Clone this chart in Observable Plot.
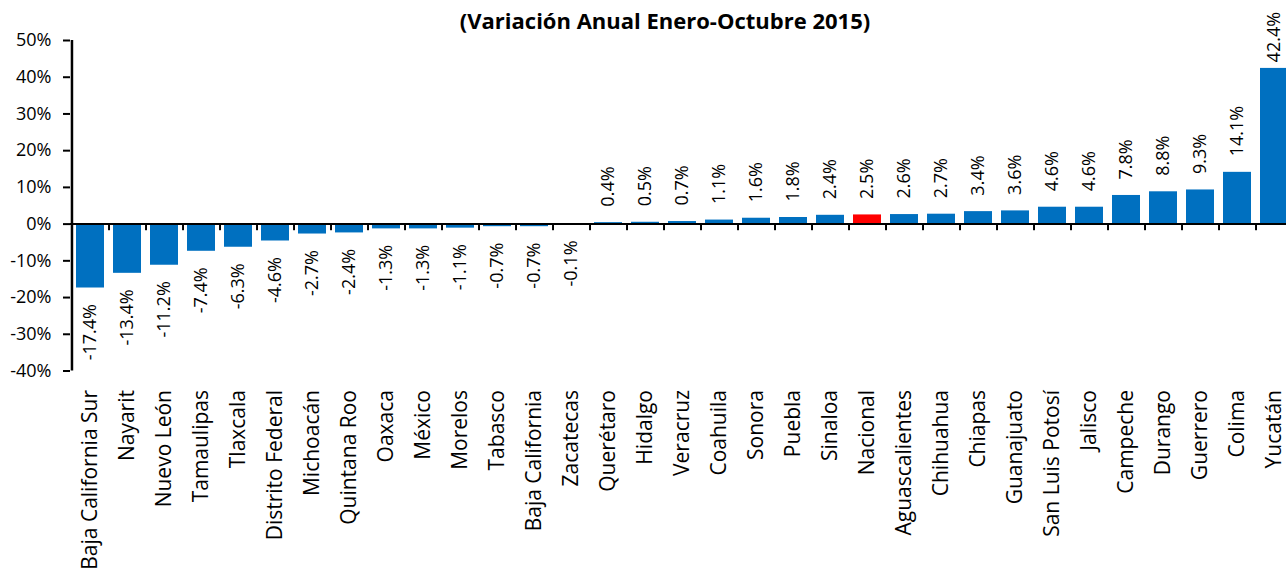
<!DOCTYPE html>
<html>
<head>
<meta charset="utf-8">
<script src="https://cdn.jsdelivr.net/npm/d3@7"></script>
<script src="https://cdn.jsdelivr.net/npm/@observablehq/plot@0.6"></script>
<style>
  html, body { margin: 0; padding: 0; background: #fff; overflow: hidden; }
  #title { height: 30px; line-height: 40px; width: 1286px; text-align: center; padding-left: 44px; box-sizing: border-box;
           font-family: "Open Sans", sans-serif; font-weight: bold; font-size: 22px; color: #000; white-space: nowrap; }
  #chart svg { overflow: visible; }
</style>
</head>
<body>
<div id="title">(Variación Anual Enero-Octubre 2015)</div>
<div id="chart"></div>
<script>
const states = ["Baja California Sur","Nayarit","Nuevo León","Tamaulipas","Tlaxcala","Distrito Federal","Michoacán","Quintana Roo","Oaxaca","México","Morelos","Tabasco","Baja California","Zacatecas","Querétaro","Hidalgo","Veracruz","Coahuila","Sonora","Puebla","Sinaloa","Nacional","Aguascalientes","Chihuahua","Chiapas","Guanajuato","San Luis Potosí","Jalisco","Campeche","Durango","Guerrero","Colima","Yucatán"];
const values = [-17.4,-13.4,-11.2,-7.4,-6.3,-4.6,-2.7,-2.4,-1.3,-1.3,-1.1,-0.7,-0.7,-0.1,0.4,0.5,0.7,1.1,1.6,1.8,2.4,2.5,2.6,2.7,3.4,3.6,4.6,4.6,7.8,8.8,9.3,14.1,42.4];
const highlight = ["Nacional"];
const yTicks = [-40,-30,-20,-10,0,10,20,30,40,50];

const data = states.map((s, i) => ({state: s, value: values[i]}));
const fmt = v => v.toFixed(1) + "%";

const x0 = 70, x1 = 1293;
const step = (x1 - x0) / states.length;

const chart = Plot.plot({
  width: 1286,
  height: 539,
  marginTop: 10,
  marginBottom: 198.5,
  marginLeft: 70,
  marginRight: 0,
  style: {fontFamily: "Open Sans", fontSize: "18px", color: "#000", background: "#fff"},
  x: {domain: states, range: [x0, x1], paddingInner: 0.245, paddingOuter: 0.1225, label: null},
  y: {domain: [-40, 50], label: null},
  marks: [
    Plot.barY(data.filter(d => !highlight.includes(d.state)), {x: "state", y: "value", fill: "#0070C0"}),
    Plot.barY(data.filter(d => highlight.includes(d.state)), {x: "state", y: "value", fill: "#FF0000"}),
    Plot.ruleY([0], {stroke: "#000", strokeWidth: 2}),
    Plot.ruleX(states, {x: d => d, y1: 0, y2: -1.8, dx: step / 2, stroke: "#000", strokeWidth: 2}),
    Plot.ruleX([states[0]], {x: d => d, y1: -40, y2: 50, dx: -step / 2, stroke: "#000", strokeWidth: 2.5}),
    Plot.axisY({ticks: yTicks, tickFormat: d => d + "%", tickSize: 7, tickPadding: 12, strokeWidth: 2, label: null, fontSize: 18}),
    Plot.axisX({tickSize: 0, tickPadding: 19, tickRotate: -90, label: null, fontSize: 21}),
    Plot.text(data.filter(d => d.value < 0), {x: "state", y: "value", text: d => fmt(d.value), rotate: -90, textAnchor: "end", dy: 16, fontSize: 18, fill: "#000"}),
    Plot.text(data.filter(d => d.value >= 0 && d.value < 40), {x: "state", y: "value", text: d => fmt(d.value), rotate: -90, textAnchor: "start", dy: -16, fontSize: 18, fill: "#000"}),
    Plot.text(data.filter(d => d.value >= 40), {x: "state", y: "value", text: d => fmt(d.value), rotate: -90, textAnchor: "start", dy: -6, fontSize: 18, fill: "#000"})
  ]
});
document.getElementById("chart").appendChild(chart);
</script>
</body>
</html>
